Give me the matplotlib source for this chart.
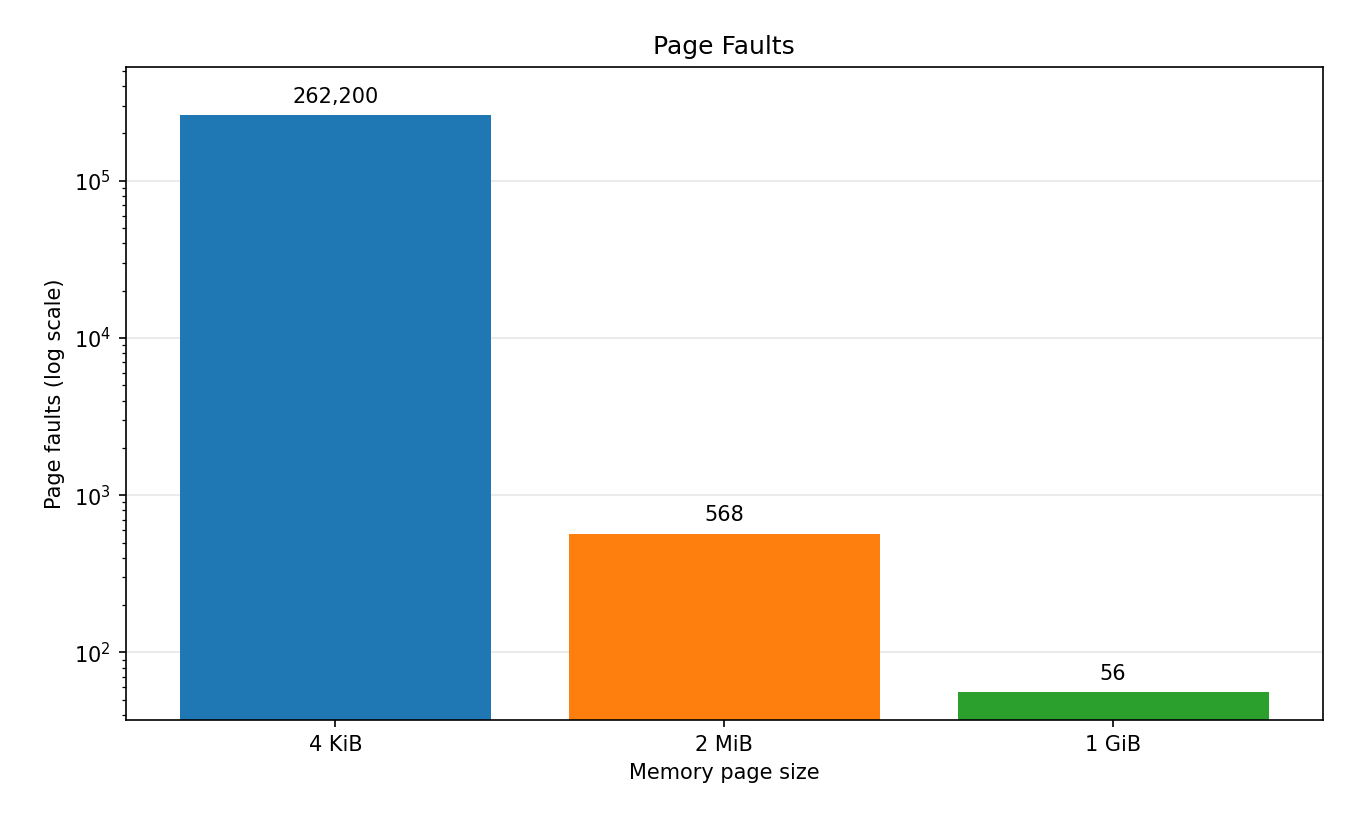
import matplotlib
matplotlib.use("Agg")
import matplotlib.pyplot as plt

categories = ["4 KiB", "2 MiB", "1 GiB"]
faults = [262200, 568, 56]
colors = ["#1f77b4", "#ff7f0e", "#2ca02c"]

fig, ax = plt.subplots(figsize=(9, 5.5067), dpi=150)
bars = ax.bar(categories, faults, color=colors, width=0.8, zorder=2)
ax.set_yscale("log")
ax.set_ylim(37, 5.3e5)
ax.grid(axis="y", alpha=0.3, zorder=0)
for b, v in zip(bars, faults):
    ax.annotate(f"{v:,}", (b.get_x() + b.get_width() / 2, v), xytext=(0, 4),
                textcoords="offset points", ha="center", va="bottom")
ax.set_title("Page Faults")
ax.set_xlabel("Memory page size")
ax.set_ylabel("Page faults (log scale)")
fig.subplots_adjust(left=0.093, right=0.98, top=0.919, bottom=0.128)
fig.savefig("out.png")
